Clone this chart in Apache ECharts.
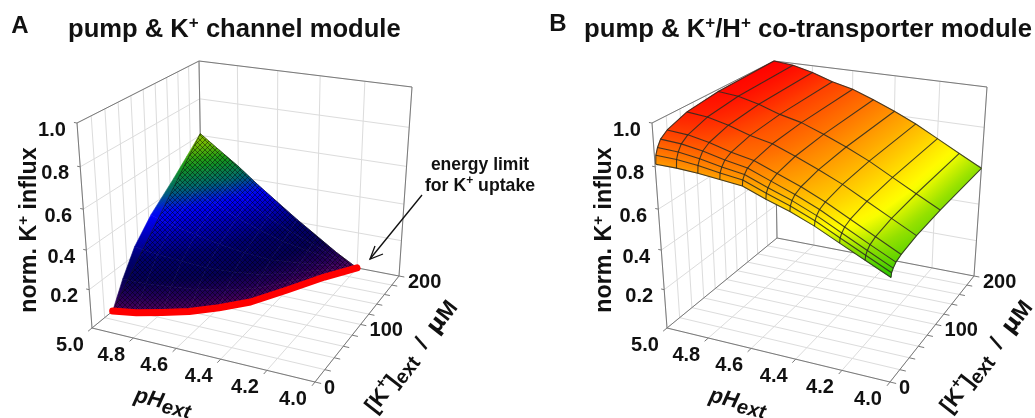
<!DOCTYPE html>
<html><head><meta charset="utf-8">
<style>html,body{margin:0;padding:0;background:#fff}#c{width:1035px;height:418px}</style>
<script src="https://cdn.jsdelivr.net/npm/echarts@6/dist/echarts.min.js"></script>
</head><body><div id="c"></div>
<script>
// ---------- axis values ----------
const pHTicks=[5.0,4.8,4.6,4.4,4.2,4.0];
const kTicks=[0,20,40,60,80,100,120,140,160,180,200];
const kLabels=[0,100,200];
const zTicks=[0.2,0.4,0.6,0.8,1.0];
// ---------- panel A: surface; row i = pH, column j runs from the energy limit to K=200 ----------
const aPH=[5.0,4.9,4.8,4.7,4.6,4.5,4.4,4.3,4.2];
const aK=[
[33,52,74,104,147,172,200],
[39,57,79,107,149,173,200],
[49,66,86,113,152,175,200],
[60,76,94,120,156,176,200],
[77,91,107,129,161,179,200],
[98,110,123,141,168,183,200],
[133,141,149,161,179,189,200],
[170,173,177,183,190,195,200],
[200,200,200,200,200,200,200]];
const aZ=[
[0,.125,.245,.35,.46,.53,.61],
[0,.11,.214,.308,.403,.465,.535],
[0,.094,.184,.265,.347,.40,.46],
[0,.077,.15,.216,.283,.326,.375],
[0,.06,.118,.17,.222,.256,.295],
[0,.044,.086,.124,.162,.187,.215],
[0,.029,.056,.08,.106,.122,.14],
[0,.013,.026,.037,.049,.056,.065],
[0,0,0,0,0,0,0]];
// ---------- panel B: row = pH, column = K ----------
const bPH=[5.0,4.9,4.8,4.7,4.6,4.5,4.4,4.3,4.2,4.1,4.0];
const bK=[1,2,5,10,20,50,100,200];
const bZ=[
[.81,.85,.88,.91,.935,.97,.99,1.0],
[.81,.848,.877,.905,.929,.961,.981,.99],
[.805,.839,.864,.89,.911,.939,.957,.965],
[.795,.823,.845,.867,.884,.908,.923,.93],
[.785,.81,.829,.849,.864,.886,.899,.905],
[.745,.77,.789,.809,.824,.846,.859,.865],
[.71,.733,.751,.768,.783,.802,.815,.82],
[.665,.687,.704,.721,.734,.753,.765,.77],
[.61,.631,.647,.663,.676,.694,.705,.71],
[.555,.575,.59,.605,.618,.635,.645,.65],
[.50,.519,.533,.548,.559,.576,.586,.59]];
// ---------- colour scales ----------
const cmapA=[[0,[85,0,90]],[.05,[40,0,90]],[.12,[5,0,85]],[.2,[0,0,110]],[.29,[0,0,195]],[.35,[0,0,255]],[.42,[0,105,110]],[.5,[20,150,25]],[.58,[125,190,0]],[1,[125,190,0]]];
const cmapB=[[0,[0,190,0]],[.47,[0,190,0]],[.6,[150,225,0]],[.66,[255,255,0]],[.8,[255,160,0]],[.9,[255,90,0]],[1,[255,0,0]]];

// ---------- 3D view: a single perspective camera shared by both panels ----------
const FF='"Liberation Sans",Arial,sans-serif';
const floorQ=[[92,328],[315,382],[399,276],[202,238]], topQ=[[77,123],[316,165],[412,87],[199,61]];
const DX_B=575, PERSP=0.92;
function homog(q){const [p0,p1,p2,p3]=q;
 const dx1=p1[0]-p2[0],dx2=p3[0]-p2[0],sx=p0[0]-p1[0]+p2[0]-p3[0];
 const dy1=p1[1]-p2[1],dy2=p3[1]-p2[1],sy=p0[1]-p1[1]+p2[1]-p3[1];
 const den=dx1*dy2-dx2*dy1,g=(sx*dy2-dx2*sy)/den,h=(dx1*sy-sx*dy1)/den;
 const a=p1[0]-p0[0]+g*p1[0],b=p3[0]-p0[0]+h*p3[0],c=p0[0],d=p1[1]-p0[1]+g*p1[1],e=p3[1]-p0[1]+h*p3[1],f=p0[1];
 return (u,v)=>{const w=g*u+h*v+1;return [(a*u+b*v+c)/w,(d*u+e*v+f)/w];};}
const HF=homog(floorQ),HT=homog(topQ);
function proj(dx,pH,K,z){const u=5-pH,v=K/200,t=PERSP*z/(PERSP*z+1-z),a=HF(u,v),b=HT(u,v);
 return [a[0]*(1-t)+b[0]*t+dx,a[1]*(1-t)+b[1]*t];}
function colorAt(map,z){for(let i=1;i<map.length;i++){if(z<=map[i][0]){const a=map[i-1],b=map[i],t=(z-a[0])/((b[0]-a[0])||1);
 return 'rgb('+a[1].map((v,k)=>Math.round(v+(b[1][k]-v)*t)).join(',')+')';}}
 return 'rgb('+map[map.length-1][1].join(',')+')';}

const series=[];
function custom(items,render){series.push({type:'custom',coordinateSystem:'cartesian2d',silent:true,animation:false,clip:false,
 encode:{x:0,y:1},data:items.map((_,i)=>[i,0]),renderItem:(p,api)=>render(items[api.value(0)],api)});}
function lines(dx,segs,stroke,w,cap){custom(segs,(s,api)=>({type:'polyline',
 shape:{points:s.map(q=>api.coord(proj(dx,q[0],q[1],q[2])))},style:{stroke,lineWidth:w,fill:null,lineCap:cap||'butt',lineJoin:'round'}}));}

function box(dx){
 const g=[];
 pHTicks.forEach(p=>{g.push([[p,0,0],[p,200,0]]);g.push([[p,200,0],[p,200,1]]);});
 kTicks.forEach(k=>{g.push([[5,k,0],[4,k,0]]);g.push([[5,k,0],[5,k,1]]);});
 zTicks.forEach(z=>{g.push([[5,0,z],[5,200,z]]);g.push([[5,200,z],[4,200,z]]);});
 lines(dx,g,'#dcdcdc',1);
 const f=[[[5,0,0],[4,0,0],[4,200,0],[5,200,0],[5,0,0],[5,0,1],[5,200,1],[4,200,1],[4,200,0]],[[5,200,0],[5,200,1]]];
 const t=[];
 pHTicks.forEach(p=>t.push([[p,0,0],[p,-6,0]]));
 kTicks.forEach(k=>t.push([[4,k,0],[3.975,k,0]]));
 zTicks.forEach(z=>t.push([[5,0,z],[5.015,0,z]]));
 lines(dx,f.concat(t),'#7a7a7a',1);
}
function cells(dx,P,K,Z,map){
 const items=[];
 for(let j=Z[0].length-2;j>=0;j--)for(let i=0;i<Z.length-1;i++){
  const kk=(a,b)=>Array.isArray(K[0])?K[a][b]:K[b];
  items.push([[P[i],kk(i,j),Z[i][j]],[P[i+1],kk(i+1,j),Z[i+1][j]],[P[i+1],kk(i+1,j+1),Z[i+1][j+1]],[P[i],kk(i,j+1),Z[i][j+1]]]);}
 custom(items,(c,api)=>{
  const pts=c.map(q=>api.coord(proj(dx,q[0],q[1],q[2]))),zs=c.map(q=>q[2]);
  const a1=pts[2][0]-pts[0][0],b1=pts[2][1]-pts[0][1],d1=zs[2]-zs[0],a2=pts[3][0]-pts[1][0],b2=pts[3][1]-pts[1][1],d2=zs[3]-zs[1];
  const det=a1*b2-a2*b1,zm=(zs[0]+zs[1]+zs[2]+zs[3])/4,zlo=Math.min(...zs),zhi=Math.max(...zs);
  let fill=colorAt(map,zm);
  if(Math.abs(det)>1e-3&&zhi-zlo>1e-4){
   const a=(d1*b2-d2*b1)/det,b=(a1*d2-a2*d1)/det,n=a*a+b*b;
   if(n>1e-12){const cx=(pts[0][0]+pts[1][0]+pts[2][0]+pts[3][0])/4,cy=(pts[0][1]+pts[1][1]+pts[2][1]+pts[3][1])/4;
    const at=z=>[cx+(z-zm)*a/n,cy+(z-zm)*b/n],s=at(zlo),e=at(zhi),st=[];
    for(let m=0;m<=6;m++)st.push({offset:m/6,color:colorAt(map,zlo+(zhi-zlo)*m/6)});
    fill={type:'linear',x:s[0],y:s[1],x2:e[0],y2:e[1],global:true,colorStops:st};}}
  return {type:'polygon',shape:{points:pts},style:{fill,stroke:fill,lineWidth:.6}};});
}
// panel A
box(0);
cells(0,aPH,aK,aZ,cmapA);
const tile=document.createElement('canvas');tile.width=tile.height=5;
(function(){const x=tile.getContext('2d');x.strokeStyle='rgba(0,0,0,0.5)';x.lineWidth=.9;x.beginPath();
 x.moveTo(0,0);x.lineTo(5,5);x.moveTo(5,0);x.lineTo(0,5);x.stroke();})();
const outlineA=[];
aPH.forEach((p,i)=>outlineA.push([p,aK[i][0],aZ[i][0]]));
aPH.slice().reverse().forEach((p,ri)=>{const i=aPH.length-1-ri;outlineA.push([p,aK[i][6],aZ[i][6]]);});
custom([outlineA],(o,api)=>({type:'polygon',shape:{points:o.map(q=>api.coord(proj(0,q[0],q[1],q[2])))},
 style:{fill:{image:tile,repeat:'repeat'},stroke:'rgba(20,20,20,.7)',lineWidth:.8}}));
lines(0,[aPH.map((p,i)=>[p,aK[i][0],0])],'#ff0000',7,'round');
// panel B
box(DX_B);
cells(DX_B,bPH,bK,bZ,cmapB);
const meshB=[];
bPH.forEach((p,i)=>meshB.push(bK.map((k,j)=>[p,k,bZ[i][j]])));
bK.forEach((k,j)=>meshB.push(bPH.map((p,i)=>[p,k,bZ[i][j]])));
lines(DX_B,meshB,'rgba(40,40,30,.85)',1.1);

// arrow to the energy limit
const arrow=[[[422,195],[370,259]],[[375,246],[370,259],[383,254]]];
custom(arrow,(s,api)=>({type:'polyline',shape:{points:s.map(q=>api.coord(q))},style:{stroke:'#111',lineWidth:1.3,fill:null}}));

// ---------- text ----------
const texts=[];
function T(text,x,y,size,o){texts.push(Object.assign({text,x,y,size,align:'center',rot:0},o||{}));}
const richBase=s=>({m:{fontSize:s,fontWeight:'bold',fontFamily:FF,fill:'#111',lineHeight:s+4},
 s:{fontSize:Math.round(s*.66),fontWeight:'bold',fontFamily:FF,fill:'#111',verticalAlign:'top',lineHeight:s+4},
 i:{fontSize:s,fontWeight:'bold',fontStyle:'italic',fontFamily:FF,fill:'#111',lineHeight:s+4},
 d:{fontSize:Math.round(s*.9),fontWeight:'bold',fontStyle:'italic',fontFamily:FF,fill:'#111',verticalAlign:'bottom',lineHeight:s+8},
 b:{fontSize:Math.round(s*.9),fontWeight:'bold',fontFamily:FF,fill:'#111',verticalAlign:'bottom',lineHeight:s+8},
 g:{fontSize:s,fontWeight:'bold',fontFamily:'"DejaVu Sans",'+FF,fill:'#111',lineHeight:s+4}});
T('{m|A}',20,26,24);
T('{m|B}',558,24,24);
T('{m|pump & K}{s|+}{m| channel module}',68,30,25.6,{align:'left'});
T('{m|pump & K}{s|+}{m|/H}{s|+}{m| co-transporter module}',584,30,25.7,{align:'left'});
T('{m|energy limit}',480,165,17.5);
T('{m|for K}{s|+}{m| uptake}',480,186,17.7);
[0,DX_B].forEach(dx=>{
 zTicks.forEach(z=>{const p=proj(dx,5,0,z);T('{m|'+z.toFixed(1)+'}',p[0]-25,p[1]+7,20);});
 pHTicks.forEach(v=>{const p=proj(dx,v,0,0);T('{m|'+v.toFixed(1)+'}',p[0]-22,p[1]+17,20);});
 kLabels.forEach(k=>{const p=proj(dx,4,k,0);T('{m|'+k+'}',p[0]+9,p[1]+6,20,{align:'left'});});
 T('{m|norm. K}{s|+}{m| influx}',30+dx,230,23.3,{rot:Math.PI/2});
 T('{i|pH}{d|ext}',163+dx,402,22,{rot:-13*Math.PI/180});
 T('{m|[K}{s|+}{m|]}{b|ext}{m|  /  }{g|μ}{m|M}',412+dx,357,22.5,{rot:52*Math.PI/180});
});
custom(texts,(t,api)=>{const c=api.coord([t.x,t.y]);return {type:'text',x:c[0],y:c[1],rotation:t.rot,
 style:{text:t.text,rich:richBase(t.size),textAlign:t.align,textVerticalAlign:'middle',align:t.align,verticalAlign:'middle'}};});

const chart=echarts.init(document.getElementById('c'),null,{renderer:'canvas'});
chart.setOption({animation:false,backgroundColor:'#fff',
 grid:{left:0,right:0,top:0,bottom:0,containLabel:false},
 xAxis:{type:'value',min:0,max:1035,show:false},
 yAxis:{type:'value',min:0,max:418,inverse:true,show:false},
 series});
</script></body></html>
